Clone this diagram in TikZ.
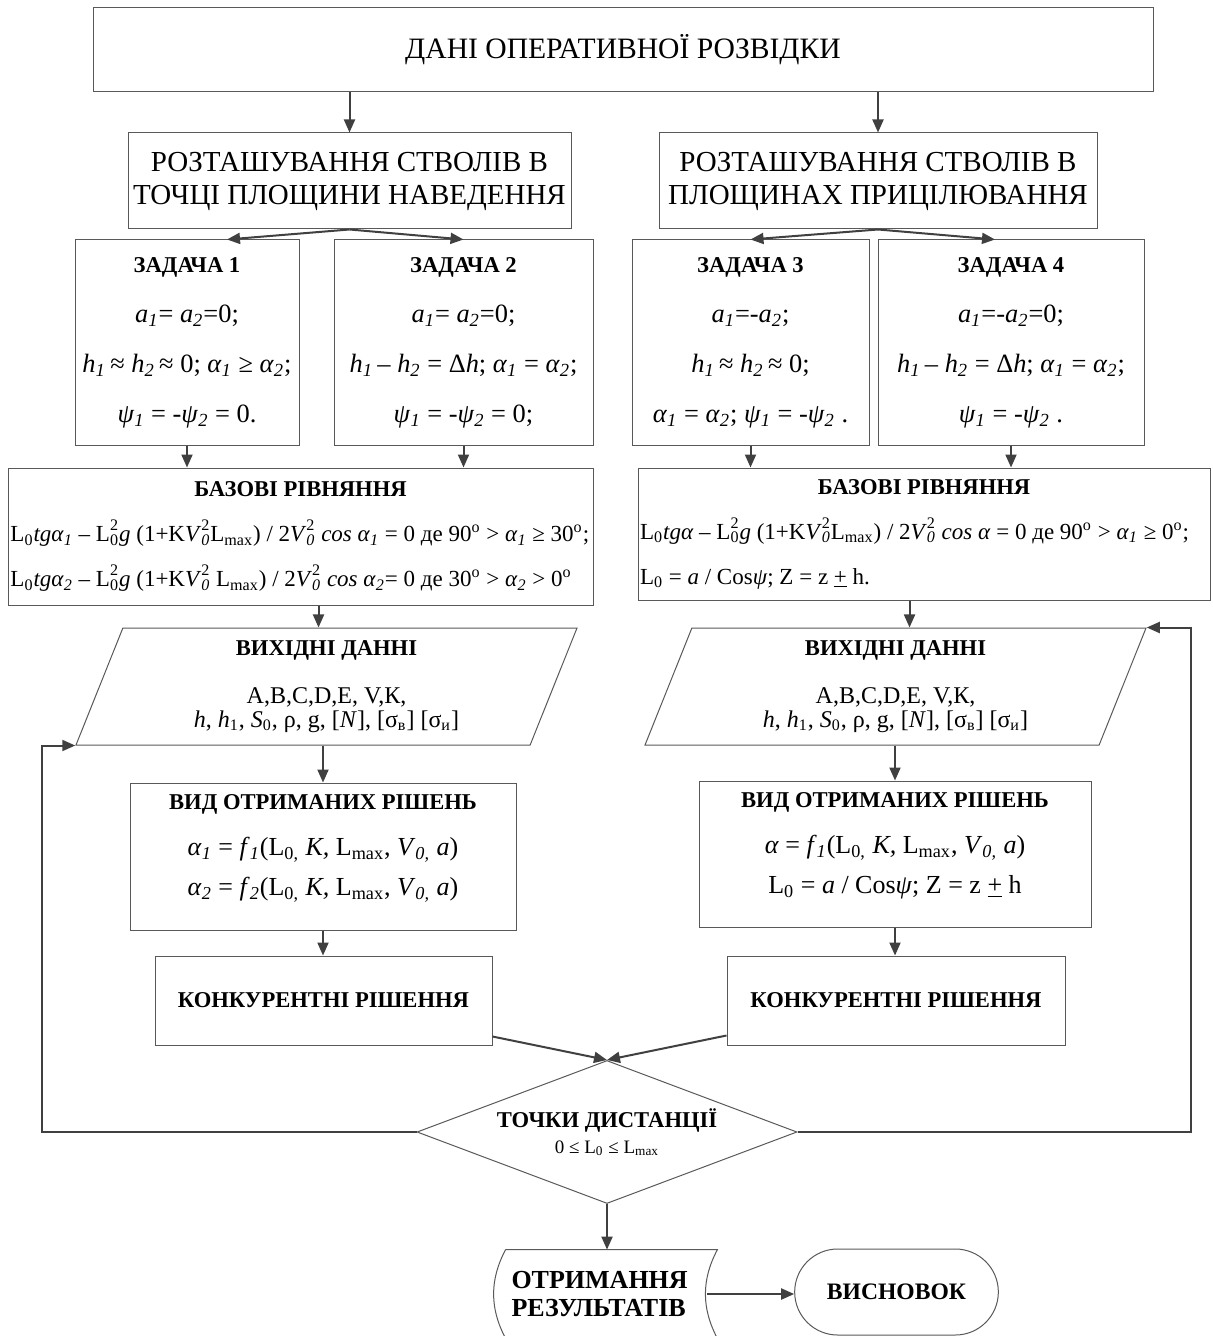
\documentclass[tikz,border=0pt]{standalone}
\usepackage{fontspec}
\setmainfont{Liberation Serif}
\usetikzlibrary{arrows.meta,shapes.geometric,shapes.misc}

\newcommand{\iv}[2]{\textit{#1}\textsubscript{\textit{#2}}}
\newcommand{\ud}[2]{\rlap{\textsubscript{#1}}\raisebox{1pt}{\textsuperscript{#2}}}
\newcommand{\hd}[1]{{\bfseries\fontsize{11.3}{13}\selectfont #1}}

\begin{document}
\begin{tikzpicture}[x=0.5pt, y=-0.5pt,
    frame/.style={draw=black!65, line width=0.5pt},
    box/.style={frame, rectangle, inner sep=1pt, align=center},
    arr/.style={draw=black!75, line width=1pt, -{Triangle[length=6.5pt, width=5.5pt]}},
    link/.style={draw=black!75, line width=1pt},
    topfont/.style={font=\fontsize{14.8}{16.5}\selectfont},
    capfont/.style={font=\fontsize{14.5}{16.5}\selectfont},
    taskfont/.style={font=\fontsize{13.2}{25}\selectfont},
    basefont/.style={font=\fontsize{11.5}{22.5}\selectfont},
    infont/.style={font=\fontsize{12}{12}\selectfont},
    vidfont/.style={font=\fontsize{13}{20}\selectfont},
    boldfont/.style={font=\bfseries\fontsize{11.3}{14}\selectfont}]

    \useasboundingbox (0,0) rectangle (1212,1336);

    \node (top) at (623,50) [box, topfont, minimum width=530pt, minimum height=42pt] {ДАНІ ОПЕРАТИВНОЇ РОЗВІДКИ};

    \node (rozL) at (349.5,181) [box, capfont, minimum width=221.5pt, minimum height=48pt] {РОЗТАШУВАННЯ СТВОЛІВ В\\ТОЧЦІ ПЛОЩИНИ НАВЕДЕННЯ};
    \node (rozR) at (878,181) [box, capfont, minimum width=219pt, minimum height=48pt] {РОЗТАШУВАННЯ СТВОЛІВ В\\ПЛОЩИНАХ ПРИЦІЛЮВАННЯ};

    % tasks
    \node (task1) at (187,342.5) [box, taskfont, minimum width=112pt, minimum height=102.5pt] {\hd{ЗАДАЧА 1}\\
        \iv{a}{1}= \iv{a}{2}=0;\\
        \iv{h}{1}\,≈ \iv{h}{2}\,≈ 0; \iv{α}{1} ≥ \iv{α}{2};\\
        \iv{ψ}{1} = -\iv{ψ}{2} = 0.};
    \node (task2) at (463.5,342.5) [box, taskfont, minimum width=129.5pt, minimum height=102.5pt] {\hd{ЗАДАЧА 2}\\
        \iv{a}{1}= \iv{a}{2}=0;\\
        \iv{h}{1}\,– \iv{h}{2} = Δ\textit{h}; \iv{α}{1} = \iv{α}{2};\\
        \iv{ψ}{1} = -\iv{ψ}{2} = 0;};
    \node (task3) at (750.5,342.5) [box, taskfont, minimum width=118.5pt, minimum height=102.5pt] {\hd{ЗАДАЧА 3}\\
        \iv{a}{1}=-\iv{a}{2};\\
        \iv{h}{1}\,≈ \iv{h}{2}\,≈ 0;\\
        \iv{α}{1} = \iv{α}{2}; \iv{ψ}{1} = -\iv{ψ}{2} .};
    \node (task4) at (1011,342.5) [box, taskfont, minimum width=133pt, minimum height=102.5pt] {\hd{ЗАДАЧА 4}\\
        \iv{a}{1}=-\iv{a}{2}=0;\\
        \iv{h}{1}\,– \iv{h}{2} = Δ\textit{h}; \iv{α}{1} = \iv{α}{2};\\
        \iv{ψ}{1} = -\iv{ψ}{2} .};

    % base equations
    \node (baseL) at (300.5,536.5) [box, basefont, minimum width=292.5pt, minimum height=68.5pt] {\hd{БАЗОВІ РІВНЯННЯ}\\
        \makebox[290pt][l]{L\textsubscript{0}\textit{tg}\iv{α}{1} – L\ud{0}{2}\textit{g} (1+K\textit{V}\ud{\textit{0}}{2}L\textsubscript{max}) / 2\textit{V}\ud{\textit{0}}{2} \textit{cos} \iv{α}{1} = 0 де 90\textsuperscript{o} > \iv{α}{1} ≥ 30\textsuperscript{o};}\\
        \makebox[290pt][l]{L\textsubscript{0}\textit{tg}\iv{α}{2} – L\ud{0}{2}\textit{g} (1+K\textit{V}\ud{\textit{0}}{2} L\textsubscript{max}) / 2\textit{V}\ud{\textit{0}}{2} \textit{cos} \iv{α}{2}= 0 де 30\textsuperscript{o} > \iv{α}{2} > 0\textsuperscript{o}}};
    \node (baseR) at (924,534) [box, basefont, minimum width=286pt, minimum height=66pt] {\hd{БАЗОВІ РІВНЯННЯ}\\
        \makebox[284pt][l]{L\textsubscript{0}\textit{tgα} – L\ud{0}{2}\textit{g} (1+K\textit{V}\ud{\textit{0}}{2}L\textsubscript{max}) / 2\textit{V}\ud{\textit{0}}{2} \textit{cos α} = 0 де 90\textsuperscript{o} > \iv{α}{1} ≥ 0\textsuperscript{o};}\\
        \makebox[284pt][l]{L\textsubscript{0} = \textit{a} / Cos\textit{ψ}; Z = z \underline{+} h.}};

    % input data
    \node (inL) at (326.5,686.5) [frame, trapezium, trapezium left angle=64, trapezium right angle=116, trapezium stretches body, minimum width=250.5pt, minimum height=58.5pt, inner sep=1pt, align=center, infont] {\hd{ВИХІДНІ ДАННІ}\\[12pt]
        A,B,C,D,E, V,К,\\
        \textit{h}, \textit{h}\textsubscript{1}, \textit{S}\textsubscript{0}, ρ, g, [\textit{N}], [σ\textsubscript{в}] [σ\textsubscript{и}]};
    \node (inR) at (895.5,686.5) [frame, trapezium, trapezium left angle=64, trapezium right angle=116, trapezium stretches body, minimum width=250.5pt, minimum height=58.5pt, inner sep=1pt, align=center, infont] {\hd{ВИХІДНІ ДАННІ}\\[12pt]
        A,B,C,D,E, V,К,\\
        \textit{h}, \textit{h}\textsubscript{1}, \textit{S}\textsubscript{0}, ρ, g, [\textit{N}], [σ\textsubscript{в}] [σ\textsubscript{и}]};

    % solutions
    \node (vidL) at (323,856.5) [box, vidfont, minimum width=193pt, minimum height=73.5pt] {\hd{ВИД ОТРИМАНИХ РІШЕНЬ}\\[3pt]
        \iv{α}{1} = \iv{f}{1}(L\textsubscript{0,} \textit{K,} L\textsubscript{max}, \iv{V}{0,} \textit{a})\\
        \iv{α}{2} = \iv{f}{2}(L\textsubscript{0,} \textit{K,} L\textsubscript{max}, \iv{V}{0,} \textit{a})\\[-9pt]\mbox{}};
    \node (vidR) at (895,854) [box, vidfont, minimum width=196pt, minimum height=73pt] {\hd{ВИД ОТРИМАНИХ РІШЕНЬ}\\[3pt]
        \textit{α} = \iv{f}{1}(L\textsubscript{0,} \textit{K,} L\textsubscript{max}, \iv{V}{0,} \textit{a})\\
        L\textsubscript{0} = \textit{a} / Cos\textit{ψ}; Z = z \underline{+} h\\[-9pt]\mbox{}};

    \node (conL) at (323.5,1000.5) [box, boldfont, minimum width=168.5pt, minimum height=44.5pt] {КОНКУРЕНТНІ РІШЕННЯ};
    \node (conR) at (896,1000.5) [box, boldfont, minimum width=169pt, minimum height=44.5pt] {КОНКУРЕНТНІ РІШЕННЯ};

    \node (dist) at (607,1132) [frame, diamond, aspect=2.66, inner sep=0pt, minimum width=190pt, minimum height=71.5pt, align=center, boldfont] {ТОЧКИ ДИСТАНЦІЇ\\[-1pt]{\mdseries\fontsize{9.5}{11}\selectfont 0 ≤ L\textsubscript{0} ≤ L\textsubscript{max}}};

    \node (res) at (611.5,1294) [rectangle, inner xsep=2.75pt, inner ysep=0pt, text width=100pt, minimum height=44pt, align=left, font=\bfseries\fontsize{13}{14}\selectfont] {ОТРИМАННЯ\\РЕЗУЛЬТАТІВ};
    \draw[frame] (res.north west) -- (res.north east) .. controls +(-16,30) and +(-16,-30) .. (res.south east) -- (res.south west) .. controls +(-16,-30) and +(-16,30) .. (res.north west);

    \node (fin) at (896.5,1292) [frame, rounded rectangle, minimum width=108.5pt, minimum height=43pt, font=\bfseries\fontsize{11.8}{14}\selectfont] {ВИСНОВОК};

    % connectors
    \draw[arr] (top.south -| rozL.north) -- (rozL.north);
    \draw[arr] (top.south -| rozR.north) -- (rozR.north);

    \draw[arr] (rozL.south) -- ([xshift=20pt]task1.north);
    \draw[arr] (rozL.south) -- (task2.north);
    \draw[arr] (rozR.south) -- (task3.north);
    \draw[arr] (rozR.south) -- ([xshift=-8pt]task4.north);

    \draw[arr] (task1.south) -- (task1.south |- baseL.north);
    \draw[arr] (task2.south) -- (task2.south |- baseL.north);
    \draw[arr] (task3.south) -- (task3.south |- baseR.north);
    \draw[arr] (task4.south) -- (task4.south |- baseR.north);

    \draw[arr] ([xshift=-4pt]baseL.south -| inL.north) -- ([xshift=-4pt]inL.north);
    \draw[arr] ([xshift=7pt]baseR.south -| inR.north) -- ([xshift=7pt]inR.north);

    \draw[arr] (inL.south -| vidL.north) -- (vidL.north);
    \draw[arr] (inR.south -| vidR.north) -- (vidR.north);
    \draw[arr] (vidL.south) -- (vidL.south |- conL.north);
    \draw[arr] (vidR.south) -- (vidR.south |- conR.north);

    \draw[arr] ([yshift=4.5pt]conL.south east) -- (dist.north);
    \draw[arr] ([yshift=5pt]conR.south west) -- (dist.north);

    \draw[arr] (dist.west) -- ++(-375,0) |- (inL.bottom left corner);
    \draw[arr] (dist.east) -- ++(393,0) |- (inR.top right corner);

    \draw[arr] (dist.south) -- (dist.south |- res.north);
    \draw[arr] ([xshift=-5pt]res.east) -- (res.east -| fin.west);
\end{tikzpicture}
\end{document}
